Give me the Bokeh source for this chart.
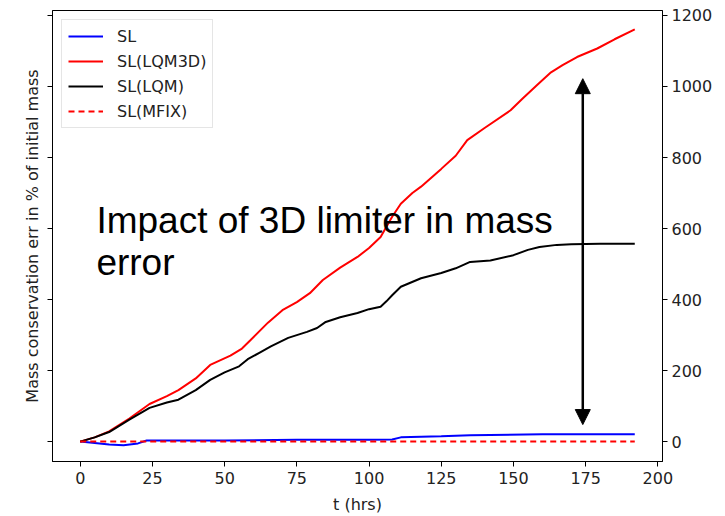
from bokeh.plotting import figure
from bokeh.models import (LinearAxis, Range1d, FixedTicker, Legend, LegendItem,
                          Arrow, NormalHead, ColumnDataSource)
from bokeh.core.properties import value
from bokeh.embed import file_html
from bokeh.resources import INLINE

# ---- data ----
t_lqm3d = [0, 5, 10, 17, 24, 30, 34, 40, 45, 52, 56, 59, 65, 70, 75, 79.5, 84, 90, 96, 100, 104, 108,
           111, 115, 118, 125, 130, 134, 140, 149, 153, 158, 163, 167, 172, 179, 185, 192]
v_lqm3d = [0, 12, 29, 65, 106, 128, 145, 178, 216, 242, 262, 286, 335, 370, 393, 418, 455, 490, 520,
           545, 576, 633, 670, 700, 718, 768, 805, 849, 883, 933, 965, 1003, 1040, 1060, 1083, 1107, 1133, 1161]

t_lqm = [0, 5, 10, 17, 24, 30, 34, 40, 45, 50, 55, 58, 62, 66, 72, 78.5, 82, 85, 90, 96, 100, 104,
         106, 108, 111, 118, 125, 130, 135, 142, 150, 155, 159, 165, 170, 180, 192]
v_lqm = [0, 12, 27, 62, 95, 110, 118, 145, 174, 195, 212, 232, 250, 268, 292, 309, 320, 337, 350, 362,
         373, 380, 395, 412, 436, 460, 475, 488, 506, 510, 525, 540, 548, 554, 556, 557, 557]

t_sl = [0, 5, 10, 15, 20, 23, 50, 75, 100, 108, 111, 125, 135, 160, 192]
v_sl = [0, -4, -8, -10, -5, 3, 3, 5, 5, 6, 12, 15, 18, 21, 21]

t_mfix = [0, 50, 100, 150, 192]
v_mfix = [0, 0, 0, 0, 0]

x_ticks = [0, 25, 50, 75, 100, 125, 150, 175, 200]
y_ticks = [0, 200, 400, 600, 800, 1000, 1200]

arrow_t = 174
arrow_low = 48
arrow_high = 1022

note_t = 5.6
note_lines = ["Impact of 3D limiter in mass", "error"]
note_v = [622, 503]

FONT = "DejaVu Sans"

p = figure(width=716, height=516, output_backend="svg", toolbar_location=None,
           x_range=Range1d(-9.6, 201.6), y_range=Range1d(-56, 1214),
           min_border_left=52, min_border_right=54, min_border_top=10, min_border_bottom=48)

p.grid.visible = False
p.background_fill_color = "white"
p.border_fill_color = "white"
p.outline_line_color = "black"
p.outline_line_width = 1
p.outline_line_alpha = 1

# axes
p.xaxis.ticker = FixedTicker(ticks=x_ticks)
p.yaxis.ticker = FixedTicker(ticks=y_ticks)
for ax in [p.xaxis[0], p.yaxis[0]]:
    ax.major_tick_out = 5
    ax.major_tick_in = 0
    ax.minor_tick_out = 0
    ax.minor_tick_in = 0
    ax.axis_line_color = "black"
    ax.major_tick_line_color = "black"
    ax.major_label_text_font = FONT
    ax.major_label_text_font_size = "16px"
    ax.major_label_text_color = "#222222"
    ax.axis_label_text_font = FONT
    ax.axis_label_text_font_size = "16px"
    ax.axis_label_text_font_style = "normal"
    ax.axis_label_text_color = "#222222"
p.xaxis.axis_label = "t (hrs)"
p.xaxis.axis_label_standoff = 8
p.yaxis.axis_label = "Mass conservation err in % of initial mass"
p.yaxis.major_label_text_color = None
p.yaxis.major_label_text_font_size = "1px"
p.yaxis.axis_label_standoff = 6

ry = LinearAxis(ticker=FixedTicker(ticks=y_ticks))
ry.major_tick_out = 5
ry.major_tick_in = 0
ry.minor_tick_out = 0
ry.minor_tick_in = 0
ry.axis_line_color = "black"
ry.major_label_text_font = FONT
ry.major_label_text_font_size = "16px"
ry.major_label_text_color = "#222222"
ry.major_label_standoff = 4
p.add_layout(ry, "right")

# lines
r_sl = p.line(t_sl, v_sl, line_color="#0000ff", line_width=2)
r_3d = p.line(t_lqm3d, v_lqm3d, line_color="#ff0000", line_width=2)
r_lqm = p.line(t_lqm, v_lqm, line_color="black", line_width=2)
r_mf = p.line(t_mfix, v_mfix, line_color="#ff0000", line_width=2, line_dash="6 4")

legend = Legend(items=[LegendItem(label="SL", renderers=[r_sl]),
                       LegendItem(label="SL(LQM3D)", renderers=[r_3d]),
                       LegendItem(label="SL(LQM)", renderers=[r_lqm]),
                       LegendItem(label="SL(MFIX)", renderers=[r_mf])],
                location="top_left", orientation="vertical")
legend.margin = 9
legend.padding = 6
legend.spacing = 5
legend.glyph_width = 35
legend.glyph_height = 20
legend.label_height = 20
legend.label_standoff = 14
legend.label_text_font = FONT
legend.label_text_font_size = "16px"
legend.label_text_color = "#222222"
legend.border_line_color = "#cccccc"
legend.border_line_width = 1
legend.background_fill_alpha = 0.8
p.add_layout(legend)

# annotation arrow
p.add_layout(Arrow(start=NormalHead(size=15, fill_color="black", line_color="black"),
                   end=NormalHead(size=15, fill_color="black", line_color="black"),
                   x_start=arrow_t, y_start=arrow_low, x_end=arrow_t, y_end=arrow_high,
                   line_color="black", line_width=2.5))

src = ColumnDataSource(dict(x=[note_t] * len(note_lines), y=note_v, text=note_lines))
p.text(x="x", y="y", text="text", source=src, text_font=value("Liberation Sans"),
       text_font_size="37px", text_color="black", text_baseline="alphabetic", text_align="left")

open("out.html", "w").write(file_html(p, INLINE))
